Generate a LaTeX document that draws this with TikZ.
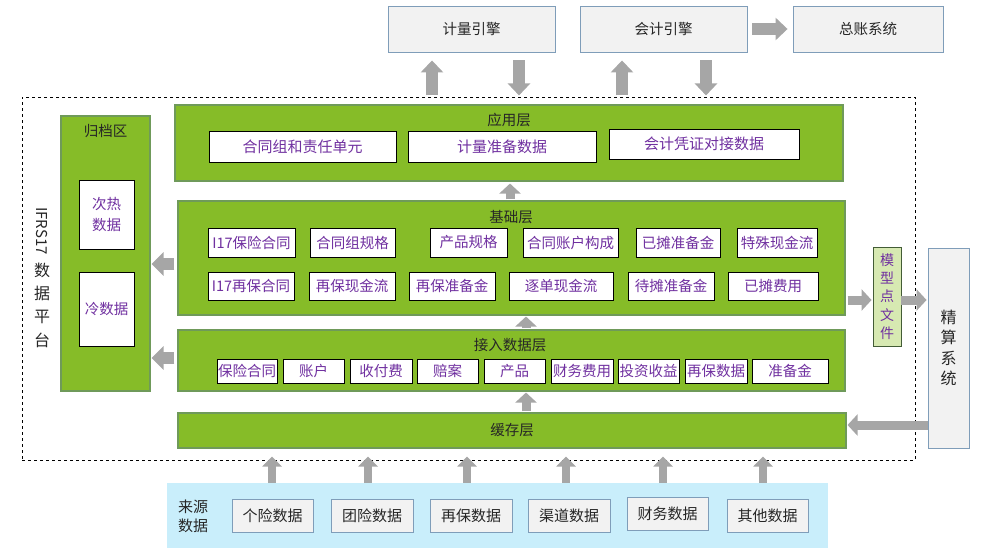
\documentclass[tikz,border=0pt]{standalone}
\usepackage{fontspec}
\setmainfont{Noto Sans CJK SC}
\usetikzlibrary{arrows.meta,calc}
\definecolor{grn}{HTML}{86BC28}
\definecolor{grnb}{HTML}{6F9A5A}
\definecolor{lgrn}{HTML}{D7E9B2}
\definecolor{boxg}{HTML}{F2F2F2}
\definecolor{boxb}{HTML}{7F9DB9}
\definecolor{lblue}{HTML}{C9EEFB}
\definecolor{arrg}{HTML}{A6A6A6}
\definecolor{txtp}{HTML}{7030A0}
\definecolor{txtd}{HTML}{262626}
% \mybox{style}{name}{x1}{y1}{x2}{y2}{text}
\newcommand\mybox[7]{%
  \pgfmathsetmacro\mybw{#5-#3}\pgfmathsetmacro\mybh{#6-#4}%
  \pgfmathsetmacro\mycx{(#3+#5)/2}\pgfmathsetmacro\mycy{(#4+#6)/2}%
  \node[#1, minimum width=\mybw pt, minimum height=\mybh pt, anchor=center] (#2) at (\mycx,\mycy) {#7};}
\begin{document}
\begin{tikzpicture}[x=1pt,y=-1pt,
  every node/.style={font=\fontsize{14.5}{17}\selectfont},
  panel/.style={fill=grn, draw=grnb, line width=1.1pt, inner sep=0pt},
  wbox/.style={fill=white, draw=black, line width=0.9pt, inner sep=0pt, text=txtp},
  gbox/.style={fill=boxg, draw=boxb, line width=0.9pt, inner sep=0pt, text=txtd},
  ttl/.style={inner sep=0pt, text=txtd},
  bigarr/.style={draw=arrg, line width=12pt, -{Triangle[width=22pt,length=12pt]}},
  midarr/.style={draw=arrg, line width=9pt, -{Triangle[width=21pt,length=10pt]}},
  sidearr/.style={draw=arrg, line width=12pt, -{Triangle[width=23pt,length=12pt]}},
  srcarr/.style={draw=arrg, line width=8pt, -{Triangle[width=19pt,length=10pt]}},
]
\useasboundingbox (0,0) rectangle (990,555);

% top systems
\mybox{gbox}{jl}{388}{6}{555}{52}{计量引擎}
\mybox{gbox}{kj}{580}{6}{747}{52}{会计引擎}
\mybox{gbox}{zz}{793}{6}{943}{52}{总账系统}

% platform dashed frame
\mybox{draw=black, dashed, line width=0.8pt, inner sep=0pt}{plat}{22}{97}{915}{460}{}
\node[ttl, rotate=-90, font=\fontsize{15}{17}\selectfont] (ifrsA) at (42,231) {IFRS17};
\node[ttl, align=center, font=\fontsize{16}{23.4}\selectfont] (ifrsB) at (42,305) {数\\据\\平\\台};

% archive
\mybox{panel}{arch}{61}{116}{150}{391}{}
\node[ttl] (archT) at (105.5,131) {归档区};
\mybox{wbox, align=center, font=\fontsize{14.5}{21}\selectfont}{cr}{79}{180}{134}{249}{次热\\数据}
\mybox{wbox}{ld}{79}{272}{134}{346}{冷数据}

% application layer
\mybox{panel}{yy}{175}{105}{843}{181}{}
\node[ttl] (yyT) at (509,120) {应用层};
\mybox{wbox, font=\fontsize{15}{17}\selectfont}{yy1}{209}{131}{396}{162}{合同组和责任单元}
\mybox{wbox, font=\fontsize{15}{17}\selectfont}{yy2}{408}{131}{596}{162}{计量准备数据}
\mybox{wbox, font=\fontsize{15}{17}\selectfont}{yy3}{609}{129}{799}{159}{会计凭证对接数据}

% base layer
\mybox{panel}{jc}{178}{201}{845}{315}{}
\node[ttl] (jcT) at (511,217) {基础层};
\mybox{wbox}{b1}{208}{228}{295}{257}{I17保险合同}
\mybox{wbox}{b2}{310}{228}{395}{257}{合同组规格}
\mybox{wbox}{b3}{430}{228}{507}{257}{产品规格}
\mybox{wbox}{b4}{523}{228}{618}{257}{合同账户构成}
\mybox{wbox}{b5}{636}{228}{720}{257}{已摊准备金}
\mybox{wbox}{b6}{737}{228}{817}{257}{特殊现金流}
\mybox{wbox}{c1}{208}{272}{294}{300}{I17再保合同}
\mybox{wbox}{c2}{309}{272}{395}{300}{再保现金流}
\mybox{wbox}{c3}{409}{272}{495}{300}{再保准备金}
\mybox{wbox}{c4}{509}{272}{613}{300}{逐单现金流}
\mybox{wbox}{c5}{628}{272}{714}{300}{待摊准备金}
\mybox{wbox}{c6}{728}{272}{818}{300}{已摊费用}

% access layer
\mybox{panel}{jr}{178}{330}{845}{391}{}
\node[ttl] (jrT) at (510,345) {接入数据层};
\mybox{wbox}{d1}{217}{359}{277}{383}{保险合同}
\mybox{wbox}{d2}{283}{359}{344}{383}{账户}
\mybox{wbox}{d3}{350}{359}{412}{383}{收付费}
\mybox{wbox}{d4}{417}{359}{478}{383}{赔案}
\mybox{wbox}{d5}{484}{359}{545}{383}{产品}
\mybox{wbox}{d6}{551}{359}{613}{383}{财务费用}
\mybox{wbox}{d7}{618}{359}{679}{383}{投资收益}
\mybox{wbox}{d8}{685}{359}{747}{383}{再保数据}
\mybox{wbox}{d9}{752}{359}{828}{383}{准备金}

% cache layer
\mybox{panel, text=txtd}{hc}{178}{413}{846}{448}{缓存层}

% source data
\mybox{fill=lblue, inner sep=0pt}{src}{167}{483}{828}{548}{}
\node[ttl, align=center, font=\fontsize{15}{19}\selectfont] (srcT) at (193,516) {来源\\数据};
\mybox{gbox, font=\fontsize{15}{17}\selectfont}{s1}{232}{499}{313}{532}{个险数据}
\mybox{gbox, font=\fontsize{15}{17}\selectfont}{s2}{331}{499}{413}{532}{团险数据}
\mybox{gbox, font=\fontsize{15}{17}\selectfont}{s3}{430}{499}{512}{532}{再保数据}
\mybox{gbox, font=\fontsize{15}{17}\selectfont}{s4}{528}{499}{610}{532}{渠道数据}
\mybox{gbox, font=\fontsize{15}{17}\selectfont}{s5}{627}{497}{708}{530}{财务数据}
\mybox{gbox, font=\fontsize{15}{17}\selectfont}{s6}{727}{499}{808}{532}{其他数据}

% model point file and actuarial system
\mybox{fill=lgrn, draw=grnb!60!black, line width=0.9pt, inner sep=0pt, text=txtp, align=center, font=\fontsize{14}{18.25}\selectfont}{mx}{873}{247}{901}{346}{模\\型\\点\\文\\件}
\mybox{gbox, align=center, font=\fontsize{16}{20.3}\selectfont}{js}{928}{248}{969}{448}{精\\算\\系\\统}

% arrows: top
\draw[bigarr] ($(kj.east)+(5,0)$) -- ($(zz.west)+(-5,0)$);
\draw[bigarr] ($(jl.south)+(-39.5,43)$) -- ($(jl.south)+(-39.5,8)$);
\draw[bigarr] ($(jl.south)+(47.5,8)$) -- ($(jl.south)+(47.5,43)$);
\draw[bigarr] ($(kj.south)+(-41.5,43)$) -- ($(kj.south)+(-41.5,8)$);
\draw[bigarr] ($(kj.south)+(42.5,8)$) -- ($(kj.south)+(42.5,43)$);

% arrows between layers
\draw[midarr] ($(jc.north)+(-1.5,-1)$) -- ($(yy.south)+(1,2)$);
\draw[midarr] ($(jr.north)+(14.5,-1)$) -- ($(jc.south)+(14.5,1)$);
\draw[midarr] ($(hc.north)+(14,-1)$) -- ($(jr.south)+(14.5,1)$);

% arrows to archive
\draw[sidearr] ($(jc.west)+(-3,6)$) -- ($(arch.east)+(1,10.5)$);
\draw[sidearr] ($(jr.west)+(-3,-2.5)$) -- ($(arch.east)+(1,104.5)$);

% arrows to model point file / actuarial / cache
\draw[midarr] ($(jc.east)+(2,42)$) -- ($(mx.west)+(-1,3.5)$);
\draw[midarr] ($(mx.east)+(0,3.5)$) -- ($(js.west)+(-1,-48)$);
\draw[midarr] ($(js.west)+(0,77)$) -- ($(hc.east)+(1,-5.5)$);

% source arrows
\draw[srcarr] ($(s1.north)+(-0.5,-16)$) -- ($(s1.north)+(-0.5,-42)$);
\draw[srcarr] ($(s2.north)+(-4,-16)$) -- ($(s2.north)+(-4,-42)$);
\draw[srcarr] ($(s3.north)+(-4,-16)$) -- ($(s3.north)+(-4,-42)$);
\draw[srcarr] ($(s4.north)+(-3,-16)$) -- ($(s4.north)+(-3,-42)$);
\draw[srcarr] ($(s5.north)+(-4.5,-14)$) -- ($(s5.north)+(-4.5,-40)$);
\draw[srcarr] ($(s6.north)+(-4.5,-16)$) -- ($(s6.north)+(-4.5,-42)$);
\end{tikzpicture}
\end{document}
